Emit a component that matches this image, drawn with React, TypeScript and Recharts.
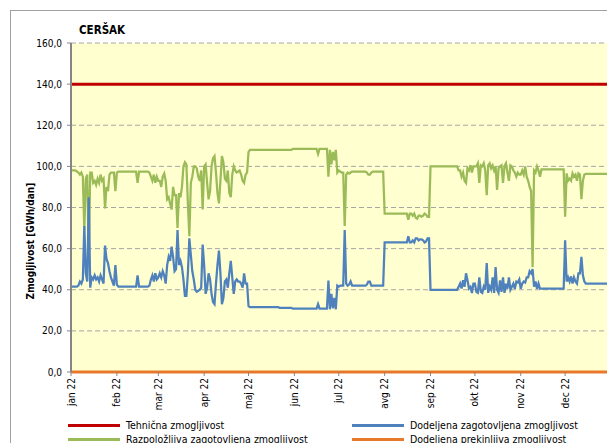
import { LineChart, Line, XAxis, YAxis, CartesianGrid, Legend } from 'recharts'

const FONT = "'DejaVu Sans Condensed', 'DejaVu Sans', sans-serif"

const MONTH_LABELS = ['jan 22','feb 22','mar 22','apr 22','maj 22','jun 22','jul 22','avg 22','sep 22','okt 22','nov 22','dec 22']
const MONTH_START_DAYS = [0,31,59,90,120,151,181,212,243,273,304,334]
const Y_TICKS = [0,20,40,60,80,100,120,140,160]
const SERIES_NAMES = ['Tehnična zmogljivost','Razpoložljiva zagotovljena zmogljivost','Dodeljena zagotovljena zmogljivost','Dodeljena prekinljiva zmogljivost']

const TEHNICNA = 140
const PREKINLJIVA = 0

// Razpoložljiva zagotovljena zmogljivost, daily, GWh/dan
const razJan = [98,98,98,98,97.5,97,96,97,95,69,94,96,54,97,97,92,93,91,94,92,96,93,94,79.5,90,88,96,97,97,97,88]
const razFeb = [97,97.5,97.5,97.5,97.5,97.5,97.5,97.5,97.5,97.5,97.5,97.5,97.5,97.5,92,97.5,97.5,97.5,97.5,97.5,97.5,97.5,97,95,93,96,92,95]
const razMar = [93,93,90,95,96.5,93,84,85,82,79,90,86,86,70,87,85,90,100,102,101,82,66,92,95,100,100,99,95,93,98,79]
const razApr = [100,101,92,84,88,100,104,105,97,87,82,93,105,102,94,93,98,87,85,96,100,98,97,97.5,98,96,93,92,96,97]
const razMaj = [107,108,108,108,108,108,108,108,108,108,108,108,108,108,108,108,108,108,108,108,108,108,108,108,108,108,108,108,108,108,108.5]
const razJun = [108.5,108.5,108.5,108.5,108.5,108.5,108.5,108.5,108.5,108.5,108.5,108.5,108.5,108.5,108.5,108.5,106,108.5,108.5,108.5,108.5,108.5,108.5,95,108,101,107,103,108,97]
const razJul = [98,97.5,97,97,71,96,97,96.5,97,97.5,97.5,97.5,97.5,97.5,97.5,97.5,97.5,97.5,97.5,97,96,96,97,97.5,97.5,97.5,97.5,97.5,97.5,97.5,97.5]
const razAvg = [77,77,77,77,77,77,77,77,77,77,77,77,77,77,77,77,74,77,77,76,77,75,74.6,76,76,75.5,76,77,76.5,75.5,75.5]
const razSep = [100,100,100,100,100,100,100,100,100,100,100,100,100,100,100,100,100,100,100,98,98,95,97,93,92,99,98,100.6,97,100]
const razOkt = [100,100,101.5,92,100.5,100,101.5,98,86,100.5,101.5,99,100.5,98,100,88.5,99,100,100.5,92,100,101.5,97,93,100.5,100,98,97,95,97,96]
const razNov = [96,98,96,100,95,93,90,88,51,98,97,100,98,95,98.5,98.5,98.5,98.5,98.5,98.5,98.5,98.5,98.5,98.5,98.5,98.5,98.5,98.5,98.5,98.5]
const razDec = [75.5,96.6,93,94,93,96.6,95,96,93,96.6,96,84,93,96,96.3,96.3,96.3,96.3,96.3,96.3,96.3,96.3,96.3,96.3,96.3,96.3,96.3,96.3,96.3,96.3,96.3]

// Dodeljena zagotovljena zmogljivost, daily, GWh/dan
const dodJan = [41.5,41.5,41.5,41.5,41.5,42,44,43,45,71,48,44,85,41,46,45,47,45,46,44,47,45,43,61.5,55,53,49,46,44,42,52]
const dodFeb = [42.5,41.5,41.5,41.5,41.5,41.5,41.5,41.5,41.5,41.5,41.5,41.5,41.5,41.5,47,41.5,41.5,41.5,41.5,41.5,41.5,41.5,42,45,47,44,48,45]
const dodMar = [46,48,46,49,47,43,52,56,54,61,56,49,50,69,52,54,51,45,37,37,48,65,57,49,45,40,39,39.5,40,41,62]
const dodApr = [52,38,41,48,45,38,34,33,43,52,59,48,33,36,44,45,41,48,54,46,38,44,45,44,44,43,41,48,43,43]
const dodMaj = [32,31.5,31.5,31.5,31.5,31.5,31.5,31.5,31.5,31.5,31.5,31.5,31.5,31.5,31.5,31.5,31.5,31.5,31.5,31.5,31.5,31.2,31.2,31.2,31.2,31.2,31.2,31.2,31.2,31.2,30.8]
const dodJun = [30.8,30.8,30.8,30.8,30.8,30.8,30.8,30.8,30.8,30.8,30.8,30.8,30.8,30.8,30.8,30.8,33,30.8,30.8,30.8,30.8,30.8,30.8,44.5,30.5,38,31,36,30.5,42]
const dodJul = [41.5,42,42,42,69,43,42,42.5,44,42,42,42,42,42,42,42,42,42,42,42.5,44,44,42,42,42,42,42,42,42,42,42]
const dodAvg = [63,63,63,63,63,63,63,63,63,63,63,63,63,63,63,63,66,63,63,64,63,65,65,64,64.5,64.5,64,63,63.5,65,65]
const dodSep = [40,40,40,40,40,40,40,40,40,40,40,40,40,40,40,40,40,40,40,41.4,43,40.6,44.6,41.4,48,44.6,40.6,41.4,38.4,43]
const dodOkt = [43,39,38.5,46,39,38.5,41.5,40,53,38.5,41.5,40,46,38.5,51,40,38.5,44.5,39,46,38.5,43,40.5,46,40,41.5,43,40.5,44,43.5,45]
const dodNov = [40.5,43,44,43.5,46,46,49,48,50,41.5,44,40.5,43,40.5,40.5,40.5,40.5,40.5,40.5,40.5,40.5,40.5,40.5,40.5,40.5,40.5,40.5,40.5,40.5,40.5]
const dodDec = [64,44,46,44,46.5,43,46,44,43,48,48,56,47,44,43,43,43,43,43,43,43,43,43,43,43,43,43,43,43,43,43]

const razpolozljiva = [razJan,razFeb,razMar,razApr,razMaj,razJun,razJul,razAvg,razSep,razOkt,razNov,razDec].flat()
const dodeljena = [dodJan,dodFeb,dodMar,dodApr,dodMaj,dodJun,dodJul,dodAvg,dodSep,dodOkt,dodNov,dodDec].flat()

const data = razpolozljiva.map((r, i) => ({
  day: i,
  tehnicna: TEHNICNA,
  razpolozljiva: r,
  dodeljena: dodeljena[i],
  prekinljiva: PREKINLJIVA,
}))

const fmt = (v:number) => v.toFixed(1).replace('.', ',')

function MonthTick({ x, y, payload }: any) {
  const idx = MONTH_START_DAYS.indexOf(payload.value)
  return (
    <g transform={`translate(${x},${y})`}>
      <text transform="rotate(-90)" x={0} y={0} dy="0.35em" textAnchor="end" fontSize={10} fill="#000" fontFamily={FONT}>
        {MONTH_LABELS[idx]}
      </text>
    </g>
  )
}

// legend sorts alphabetically by default, put it back in series order
function LegendGrid({ payload }: any) {
  const items = [...(payload ?? [])].sort((a:any, b:any) => SERIES_NAMES.indexOf(a.value) - SERIES_NAMES.indexOf(b.value))
  return (
    <div style={{ display:'grid', gridTemplateRows:'14px 14px', gridTemplateColumns:'284px 260px', gridAutoFlow:'column', fontFamily:FONT, fontSize:10.5, color:'#000' }}>
      {items.map((p:any) => (
        <div key={p.value} style={{ display:'flex', alignItems:'center', whiteSpace:'nowrap' }}>
          <span style={{ display:'inline-block', width:52, height:3, background:p.color, marginRight:6 }} />
          <span>{p.value}</span>
        </div>
      ))}
    </div>
  )
}

export default function App() {
  return (
    <div style={{ position:'fixed', left:0, top:0, width:607, height:443, overflow:'hidden', background:'#fff' }}>
      <div style={{ position:'absolute', left:10, top:10, width:700, height:500, border:'1px solid #a0a0a0', boxSizing:'border-box' }} />
      <div style={{ position:'absolute', left:79, top:23, fontFamily:FONT, fontWeight:'bold', fontSize:11.5, lineHeight:'14px', color:'#000' }}>CERŠAK</div>
      <div style={{ position:'absolute', left:0, top:0 }}>
        <LineChart width={640} height={443} data={data} margin={{ top:43, right:29, bottom:21, left:11 }}>
          <CartesianGrid vertical={false} stroke="#a6a6a6" strokeDasharray="5 3" fill="#FFFFD0" fillOpacity={1} />
          <XAxis dataKey="day" type="number" domain={[0,365]} ticks={MONTH_START_DAYS} interval={0}
            height={50} tick={<MonthTick />} tickSize={4} tickMargin={2} axisLine={false}
            tickLine={{ stroke:'#868686' }} />
          <YAxis domain={[0,160]} ticks={Y_TICKS} width={60} tickFormatter={fmt} tickSize={4} tickMargin={5}
            axisLine={{ stroke:'#868686', strokeWidth:2 }} tickLine={{ stroke:'#868686' }}
            tick={{ fontSize:10, fill:'#000', fontFamily:FONT }}
            label={{ content: () => (
              <text x={30} y={241} transform="rotate(-90 30 241)" textAnchor="middle" dominantBaseline="central"
                fontSize={10} fontWeight="bold" fontFamily={FONT} fill="#000">Zmogljivost [GWh/dan]</text>
            ) }} />
          <Legend layout="horizontal" verticalAlign="middle" align="center" content={<LegendGrid />}
            wrapperStyle={{ position:'absolute', left:68, top:418, width:560, height:30 }} />
          <Line dataKey="tehnicna" name={SERIES_NAMES[0]} stroke="#C00000" strokeWidth={3} dot={false} isAnimationActive={false} />
          <Line dataKey="razpolozljiva" name={SERIES_NAMES[1]} stroke="#9BBB59" strokeWidth={2.25} dot={false} isAnimationActive={false} />
          <Line dataKey="dodeljena" name={SERIES_NAMES[2]} stroke="#4F81BD" strokeWidth={2.25} dot={false} isAnimationActive={false} />
          <Line dataKey="prekinljiva" name={SERIES_NAMES[3]} stroke="#E8792B" strokeWidth={3} dot={false} isAnimationActive={false} />
        </LineChart>
      </div>
    </div>
  )
}
